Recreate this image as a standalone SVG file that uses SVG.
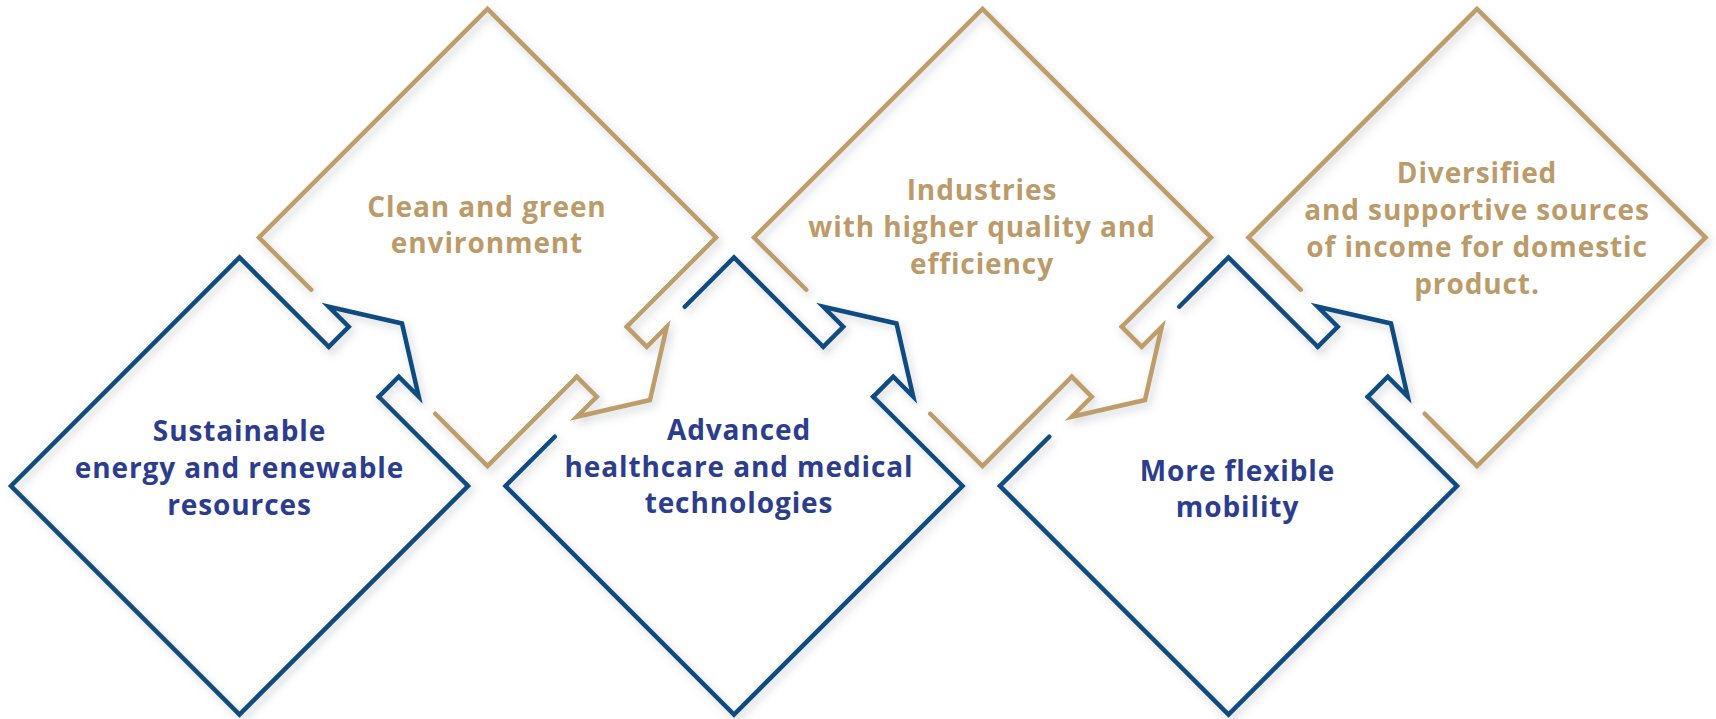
<svg xmlns="http://www.w3.org/2000/svg" width="1716" height="719" viewBox="0 0 1716 719">
<style>
.bl{fill:none;stroke:#0B4B80;stroke-width:4.5;stroke-linecap:round;stroke-linejoin:miter;stroke-miterlimit:6}
.gl{fill:none;stroke:#BD9D6A;stroke-width:4.5;stroke-linecap:round;stroke-linejoin:miter;stroke-miterlimit:6}
.ar{stroke-linecap:square}
.tb{fill:#2C3D8E}
.tg{fill:#BB9B69}
text{font-family:"Open Sans","Noto Sans","Liberation Sans",sans-serif;font-weight:700;font-size:28px;letter-spacing:0.9px;text-anchor:middle}
.sh{filter:url(#sh)}
</style>
<defs>
<filter id="sh" x="-10%" y="-10%" width="125%" height="125%">
<feDropShadow dx="3" dy="4" stdDeviation="4" flood-color="#7d8390" flood-opacity="0.35"/>
</filter>
</defs>
<rect width="1716" height="719" fill="#ffffff"/>
<g id="node-sustainable">
<path class="bl sh" transform="translate(239.5,486)" d="M139.25,-89.25 L228.5,0 L0,228.5 L-228.5,0 L0,-228.5 L89.25,-139.25"/>
<text class="tb" x="239.5" y="441">Sustainable</text>
<text class="tb" x="239.5" y="478">energy and renewable</text>
<text class="tb" x="239.5" y="515">resources</text>
</g>
<g id="node-clean">
<path class="gl sh" transform="translate(487.5,237.5)" d="M-176.25,52.25 L-228.5,0 L0,-228.5 L228.5,0 L139.25,89.25 M89.25,139.25 L0,228.5 L-52.25,176.25"/>
<text class="tg" x="487" y="216.5">Clean and green</text>
<text class="tg" x="487" y="253">environment</text>
</g>
<g id="node-healthcare">
<path class="bl sh" transform="translate(734,486)" d="M-49.25,-179.25 L0,-228.5 L89.25,-139.25 M139.25,-89.25 L228.5,0 L0,228.5 L-228.5,0 L-179.25,-49.25"/>
<text class="tb" x="739" y="440">Advanced</text>
<text class="tb" x="739" y="476.5">healthcare and medical</text>
<text class="tb" x="739" y="513">technologies</text>
</g>
<g id="node-industries">
<path class="gl sh" transform="translate(982.5,237.5)" d="M-176.25,52.25 L-228.5,0 L0,-228.5 L228.5,0 L139.25,89.25 M89.25,139.25 L0,228.5 L-52.25,176.25"/>
<text class="tg" x="982" y="200">Industries</text>
<text class="tg" x="982" y="237">with higher quality and</text>
<text class="tg" x="982" y="274">efficiency</text>
</g>
<g id="node-mobility">
<path class="bl sh" transform="translate(1228.5,486)" d="M-49.25,-179.25 L0,-228.5 L89.25,-139.25 M139.25,-89.25 L228.5,0 L0,228.5 L-228.5,0 L-179.25,-49.25"/>
<text class="tb" x="1237.5" y="480.5">More flexible</text>
<text class="tb" x="1237.5" y="517">mobility</text>
</g>
<g id="node-diversified">
<path class="gl sh" transform="translate(1477,237.5)" d="M-176.25,52.25 L-228.5,0 L0,-228.5 L228.5,0 L0,228.5 L-52.25,176.25"/>
<text class="tg" x="1477" y="182.5">Diversified</text>
<text class="tg" x="1477" y="219.5">and supportive sources</text>
<text class="tg" x="1477" y="256.5">of income for domestic</text>
<text class="tg" x="1477" y="293.5">product.</text>
</g>
<g id="connectors">
<path class="bl ar sh" transform="translate(239.5,486)" d="M89.25,-139.25 L109.25,-159.25 L89.25,-179.25 L162.5,-162.5 L179.25,-89.25 L159.25,-109.25 L139.25,-89.25"/>
<path class="gl ar sh" transform="translate(487.5,237.5)" d="M139.25,89.25 L159.25,109.25 L179.25,89.25 L162.5,162.5 L89.25,179.25 L109.25,159.25 L89.25,139.25"/>
<path class="bl ar sh" transform="translate(734,486)" d="M89.25,-139.25 L109.25,-159.25 L89.25,-179.25 L162.5,-162.5 L179.25,-89.25 L159.25,-109.25 L139.25,-89.25"/>
<path class="gl ar sh" transform="translate(982.5,237.5)" d="M139.25,89.25 L159.25,109.25 L179.25,89.25 L162.5,162.5 L89.25,179.25 L109.25,159.25 L89.25,139.25"/>
<path class="bl ar sh" transform="translate(1228.5,486)" d="M89.25,-139.25 L109.25,-159.25 L89.25,-179.25 L162.5,-162.5 L179.25,-89.25 L159.25,-109.25 L139.25,-89.25"/>
</g>
</svg>
